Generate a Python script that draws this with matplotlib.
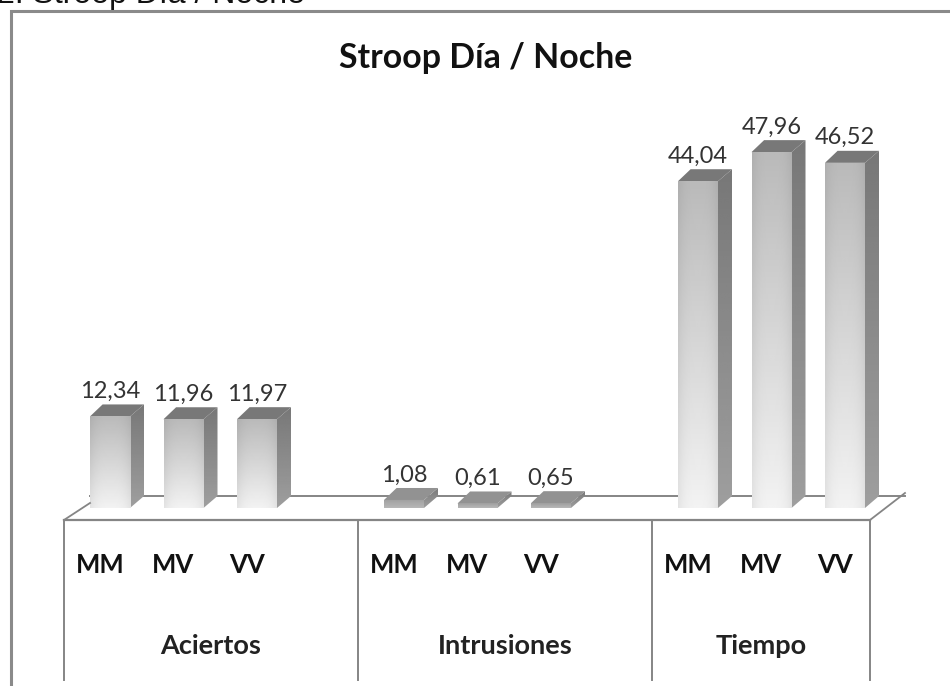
import numpy as np
import matplotlib
matplotlib.use("Agg")
import matplotlib.pyplot as plt
from matplotlib.colors import LinearSegmentedColormap
from matplotlib.patches import Polygon

groups = ["Aciertos", "Intrusiones", "Tiempo"]
subgroups = ["MM", "MV", "VV"]
aciertos = [12.34, 11.96, 11.97]
intrusiones = [1.08, 0.61, 0.65]
tiempo = [44.04, 47.96, 46.52]
series = [aciertos, intrusiones, tiempo]
title = "Stroop Día / Noche"
heading = "2. Stroop Día / Noche"

W, H = 950, 686
PX_X, PX_Y = 73.5, 7.42        # pixels per slot / per value unit
X0, Y0 = 90, 508               # pixel of slot 0 and of value 0
BAR_W = 40 / PX_X
DX, DY = 14 / PX_X, 12 / PX_Y  # 3-D depth in data units
LINE = "#858585"
FONT = "Lato"

fig = plt.figure(figsize=(W / 100, H / 100), dpi=100, facecolor="white")
ax = fig.add_axes([0, 0, 1, 1])
ax.axis("off")
xlim = (-X0 / PX_X, (W - X0) / PX_X)
ylim = ((Y0 - H) / PX_Y, Y0 / PX_Y)

grey = LinearSegmentedColormap.from_list("g", ["black", "white"])


def gradient(patch, left, right, bottom, top, c_bottom, c_top, edge=0.0):
    v = np.linspace(c_top, c_bottom, 64)[:, None]
    h = 1 - edge * np.abs(np.linspace(-1, 1, 32))[None, :] ** 3
    im = ax.imshow(v * h, extent=(left, right, bottom, top), aspect="auto",
                   cmap=grey, vmin=0, vmax=1, zorder=patch.get_zorder(),
                   interpolation="bilinear")
    im.set_clip_path(patch)


# floor back line (drawn behind the bars)
ax.plot(xlim[0] + np.array([90, 905]) / PX_X, [DY, DY], color=LINE, lw=1.4, zorder=1)

for g, vals in enumerate(series):
    for s, v in enumerate(vals):
        x = 4 * g + s
        flat = v < 3
        # side face
        side = Polygon([(x + BAR_W, 0), (x + BAR_W + DX, DY),
                        (x + BAR_W + DX, v + DY), (x + BAR_W, v)],
                       closed=True, fc="none", ec="none", zorder=2)
        ax.add_patch(side)
        gradient(side, x + BAR_W, x + BAR_W + DX, 0, v + DY, 0.62, 0.47)
        # top face
        top = Polygon([(x, v), (x + DX * 0.9, v + DY), (x + BAR_W + DX, v + DY),
                       (x + BAR_W, v)], closed=True,
                      fc="#929292" if flat else "#787878", ec="none", zorder=3)
        ax.add_patch(top)
        # front face
        bar = ax.bar(x, v, width=BAR_W, align="edge", color="none", zorder=4)[0]
        if flat:
            gradient(bar, x, x + BAR_W, 0, v, 0.72, 0.62)
        else:
            gradient(bar, x, x + BAR_W, 0, v, 0.95, 0.73, edge=0.06)

ax.set_xlim(*xlim)
ax.set_ylim(*ylim)

for g, vals in enumerate(series):
    for s, v in enumerate(vals):
        x = 4 * g + s + BAR_W / 2
        ax.annotate(f"{v:.2f}".replace(".", ","), (x, v), xytext=(0, 18),
                    textcoords="offset points", ha="center", va="center",
                    fontsize=17, family=FONT, color="#333333", zorder=6)

# chrome in pixel coordinates
px = fig.add_axes([0, 0, 1, 1], facecolor="none")
px.axis("off")
px.set_xlim(0, W)
px.set_ylim(H, 0)

px.plot([11, 11, W], [H, 11, 11], color="#8a8a8a", lw=2.2, solid_joinstyle="miter")
px.text(-3, 3.5, heading, family="Liberation Sans", fontsize=23, color="#111111",
        ha="left", va="baseline", clip_on=False)
px.text(486, 58, title, family=FONT, fontsize=24.4, fontweight="bold",
        color="#111111", ha="center", va="center")

# multi-level category table
bounds = [64, 358, 652, 870]
px.plot([bounds[0], bounds[-1]], [520, 520], color=LINE, lw=1.6)
for b in bounds:
    px.plot([b, b], [520, 680], color=LINE, lw=1.4)
px.plot([64, 90], [520, 503], color=LINE, lw=1.3)
px.plot([870, 905], [520, 493], color=LINE, lw=1.3)

for g, name in enumerate(groups):
    for s, lab in enumerate(subgroups):
        px.text(bounds[g] + 36 + PX_X * s, 565, lab, family=FONT, fontsize=18.5,
                fontweight="bold", color="#111111", ha="center", va="center")
    px.text((bounds[g] + bounds[g + 1]) / 2, 646, name, family=FONT, fontsize=19.5,
            fontweight="bold", color="#222222", ha="center", va="center")

fig.savefig("out.png", dpi=100, facecolor="white")
